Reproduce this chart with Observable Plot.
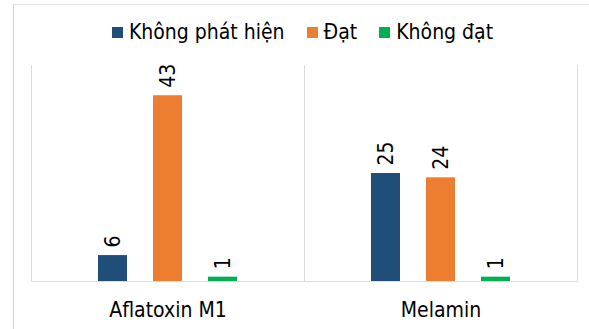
<!DOCTYPE html>
<html>
<head>
<meta charset="utf-8">
<script src="https://cdn.jsdelivr.net/npm/d3@7"></script>
<script src="https://cdn.jsdelivr.net/npm/@observablehq/plot@0.6"></script>
<style>
  body { margin: 0; background: #fff; }
  #chart {
    position: relative; width: 589px; height: 329px; overflow: hidden;
    font-family: "DejaVu Sans Condensed", "DejaVu Sans", sans-serif;
  }
  #border {
    position: absolute; left: 13px; top: 4px; width: 700px; height: 500px;
    border-left: 1px solid #d4d4d4; border-top: 1px solid #e4e4e4;
  }
  #legend {
    position: absolute; left: 8px; top: 17px; width: 589px; height: 30px;
    display: flex; justify-content: center; align-items: center;
    font-size: 21px; color: #000; z-index: 2;
  }
  .item { display: flex; align-items: center; margin: 0 11px; }
  .swatch { width: 11px; height: 11px; margin-right: 6px; }
  #plot { position: absolute; left: 0; top: 0; }
</style>
</head>
<body>
<div id="chart">
  <div id="border"></div>
  <div id="legend"></div>
  <div id="plot"></div>
</div>
<script>
// Test results per contaminant
const categories = ["Aflatoxin M1", "Melamin"];
const series = ["Không phát hiện", "Đạt", "Không đạt"];
const aflatoxinValues = [6, 43, 1];
const melaminValues = [25, 24, 1];
const colors = ["#1F4E79", "#ED7D31", "#00B050"];

const valuesByCategory = [aflatoxinValues, melaminValues];
const rows = categories.flatMap((category, i) =>
  series.map((s, j) => ({category, series: s, value: valuesByCategory[i][j]}))
);

// Legend
const legend = document.getElementById("legend");
series.forEach((s, i) => {
  const item = document.createElement("div");
  item.className = "item";
  const sw = document.createElement("span");
  sw.className = "swatch";
  sw.style.background = colors[i];
  const label = document.createElement("span");
  label.textContent = s;
  item.append(sw, label);
  legend.append(item);
});

const grid = "#dcdcdc";

const chart = Plot.plot({
  width: 589,
  height: 329,
  marginTop: 65,
  marginBottom: 48,
  marginLeft: 30,
  marginRight: 12,
  style: {
    fontFamily: '"DejaVu Sans Condensed", "DejaVu Sans", sans-serif',
    fontSize: "21px",
    background: "transparent",
    color: "#000"
  },
  fx: {domain: categories, paddingInner: 0, paddingOuter: 0, axis: "bottom", tickSize: 0, tickPadding: 21, label: null},
  x: {domain: series, paddingInner: 0.48, paddingOuter: 1.18, axis: null},
  y: {domain: [0, 50], axis: null},
  color: {domain: series, range: colors},
  marks: [
    Plot.frame({anchor: "left", stroke: grid}),
    Plot.frame({anchor: "right", stroke: grid}),
    Plot.barY(rows, {fx: "category", x: "series", y: "value", fill: "series"}),
    Plot.ruleY([0], {stroke: grid}),
    Plot.text(rows, {
      fx: "category", x: "series", y: "value",
      text: d => String(d.value),
      rotate: -90, textAnchor: "start", dy: -8,
      fontSize: 21, fill: "#000"
    })
  ]
});

document.getElementById("plot").append(chart);
</script>
</body>
</html>
